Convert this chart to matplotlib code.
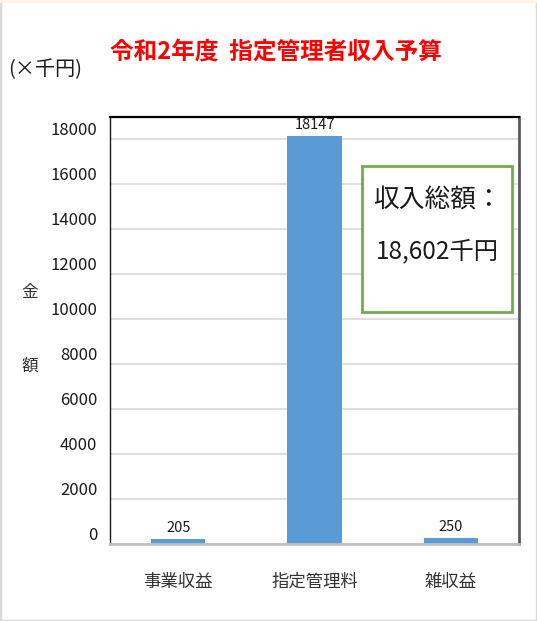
import matplotlib
matplotlib.use("Agg")
import matplotlib.pyplot as plt
import matplotlib.transforms as mtransforms
from matplotlib.patches import Rectangle

plt.rcParams['font.family'] = ['Noto Sans CJK JP', 'DejaVu Sans']

# data
categories = ["事業収益", "指定管理料", "雑収益"]
values = [205, 18147, 250]
y_ticks = [0, 2000, 4000, 6000, 8000, 10000, 12000, 14000, 16000, 18000]
title = "令和2年度  指定管理者収入予算"
total_text = ["収入総額：", "18,602千円"]

W, H = 537, 621
fig = plt.figure(figsize=(W / 100, H / 100), dpi=100)

# outer frame like the screenshot
fig.patches.append(Rectangle((0, 0), 1, 1, transform=fig.transFigure, fill=False,
                             edgecolor="#d9d9d9", linewidth=2.5, zorder=0))
fig.patches.append(Rectangle((0, 1 - 3 / H), 1, 3 / H, transform=fig.transFigure,
                             facecolor="#fdf6e3", edgecolor="none", zorder=1))

ax = fig.add_axes([110 / W, 1 - 544 / H, 409 / W, 427 / H])
x = range(len(categories))
bars = ax.bar(x, values, width=0.4, color="#5b9bd5", zorder=2)
for b, v in zip(bars, values):
    ax.text(b.get_x() + b.get_width() / 2, v + 200, str(v), ha="center", va="bottom",
            fontsize=10.5, color="#1a1a1a")

ax.set_xlim(-0.5, 2.5)
ax.set_ylim(0, 19000)
ax.set_yticks(y_ticks)
ax.set_xticks(list(x))
ax.set_xticklabels(categories, fontsize=12.5, color="#333333")
ax.tick_params(axis="x", length=0, pad=21)
ax.tick_params(axis="y", length=0, pad=9, labelsize=12, labelcolor="#1a1a1a")
offset = mtransforms.ScaledTranslation(0, 0.11, fig.dpi_scale_trans)
for lbl in ax.get_yticklabels():
    lbl.set_transform(lbl.get_transform() + offset)
ax.grid(axis="y", color="#d9d9d9", linewidth=1.2, zorder=0)
ax.set_axisbelow(True)

ax.spines["left"].set_color("#1a1a1a")
ax.spines["left"].set_linewidth(1.0)
ax.spines["top"].set_color("#000000")
ax.spines["top"].set_linewidth(1.6)
ax.spines["right"].set_color("#595959")
ax.spines["right"].set_linewidth(2.0)
ax.spines["bottom"].set_color("#bfbfbf")
ax.spines["bottom"].set_linewidth(2.0)

# total box
ax.add_patch(Rectangle((0.616, 0.543), 0.367, 0.342, transform=ax.transAxes,
                       facecolor="white", edgecolor="#70ad47", linewidth=2, zorder=5))
ax.text(0.80, 0.805, total_text[0], transform=ax.transAxes, ha="center", va="center",
        fontsize=18.5, color="#1a1a1a", zorder=6)
ax.text(0.80, 0.685, total_text[1], transform=ax.transAxes, ha="center", va="center",
        fontsize=17.5, color="#1a1a1a", zorder=6)

# titles and labels
fig.text(110 / W, 1 - 52 / H, title, ha="left", va="center", fontsize=17,
         fontweight="bold", color="#ff0000")
fig.text(8 / W, 1 - 70 / H, "(×千円)", ha="left", va="center", fontsize=14.5, color="#1a1a1a")
fig.text(30 / W, 1 - 293 / H, "金", ha="center", va="center", fontsize=12, color="#333333")
fig.text(30 / W, 1 - 366 / H, "額", ha="center", va="center", fontsize=12, color="#333333")

fig.savefig("out.png", dpi=100)
